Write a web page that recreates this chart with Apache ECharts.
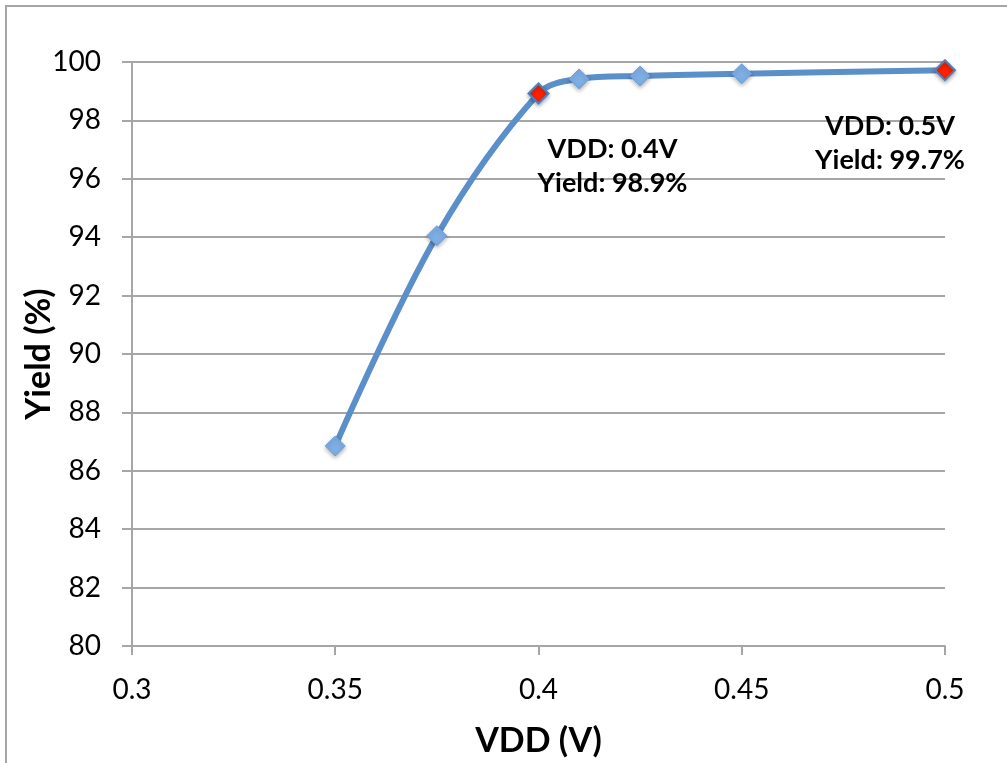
<!DOCTYPE html>
<html><head><meta charset="utf-8">
<script src="https://cdn.jsdelivr.net/npm/echarts@6/dist/echarts.min.js"></script>
<style>html,body{margin:0;padding:0;background:#fff}#c{width:1007px;height:763px}</style>
</head><body><div id="c"></div>
<script>
const vdd = [0.35, 0.375, 0.4, 0.41, 0.425, 0.45, 0.5];
const yieldPct = [86.85, 94.05, 98.92, 99.42, 99.52, 99.6, 99.72];
const highlighted = [0.4, 0.5];
const annotationX = [0.4, 0.5];
const annotationY = [98.9, 99.7];
const annotationText = ['VDD: 0.4V\nYield: 98.9%', 'VDD: 0.5V\nYield: 99.7%'];
const xTicks = [0.3, 0.35, 0.4, 0.45, 0.5];
const yTicks = [80, 82, 84, 86, 88, 90, 92, 94, 96, 98, 100];

const FONT = 'Lato, "Liberation Sans", sans-serif';
const chart = echarts.init(document.getElementById('c'), null, {renderer: 'canvas'});
const data = vdd.map((x, i) => {
  const hl = highlighted.includes(x);
  return {
    value: [x, yieldPct[i]],
    itemStyle: hl ? {color: '#ff2200', borderColor: '#4f81bd', borderWidth: 2} : undefined
  };
});
const labelOffsets = [[74, 72], [-55, 73]];
const annSeries = annotationX.map((x, i) => ({
  type: 'scatter', data: [[x, annotationY[i]]], symbolSize: 1, silent: true, z: 4,
  itemStyle: {color: 'rgba(0,0,0,0)', opacity: 1},
  label: {
    show: true, position: 'inside', offset: labelOffsets[i],
    formatter: annotationText[i],
    fontFamily: FONT, fontSize: 27, fontWeight: 'bold', color: '#000',
    textBorderWidth: 0, textBorderColor: 'transparent', textShadowBlur: 0,
    lineHeight: 34, align: 'center', verticalAlign: 'middle'
  },
  emphasis: {disabled: true}
}));
chart.setOption({
  animation: false,
  graphic: [{
    type: 'rect', shape: {x: 6, y: 6, width: 1100, height: 900},
    style: {fill: 'none', stroke: '#a6a6a6', lineWidth: 2}, silent: true, z: -1
  }],
  grid: {left: 132, right: 62, top: 62, bottom: 117, containLabel: false},
  xAxis: {
    type: 'value', min: 0.3, max: 0.5, interval: 0.05,
    name: 'VDD (V)', nameLocation: 'middle', nameGap: 78,
    nameTextStyle: {fontFamily: FONT, fontSize: 34, fontWeight: 'bold', color: '#000'},
    axisLine: {show: true, lineStyle: {color: '#a6a6a6', width: 2}},
    axisTick: {show: true, length: 9, lineStyle: {color: '#a6a6a6', width: 2}},
    axisLabel: {fontFamily: FONT, fontSize: 28, color: '#000', margin: 30,
      formatter: v => { const t = xTicks.find(t => Math.abs(t - v) < 1e-9); return t === undefined ? '' : String(t); }},
    splitLine: {show: false}
  },
  yAxis: {
    type: 'value', min: 80, max: 100, interval: 2,
    name: 'Yield (%)', nameLocation: 'middle', nameGap: 76, nameRotate: 90,
    nameMoveOverlap: false,
    nameTextStyle: {fontFamily: FONT, fontSize: 34, fontWeight: 'bold', color: '#000'},
    axisLine: {show: true, lineStyle: {color: '#a6a6a6', width: 2}},
    axisTick: {show: true, length: 10, lineStyle: {color: '#a6a6a6', width: 2}},
    axisLabel: {fontFamily: FONT, fontSize: 28, color: '#000', margin: 31,
      formatter: v => yTicks.includes(v) ? String(v) : ''},
    splitLine: {show: true, lineStyle: {color: '#a6a6a6', width: 2}}
  },
  series: [{
    type: 'line', smooth: 0.35, data: data,
    symbol: 'diamond', symbolSize: 20,
    lineStyle: {color: '#5b8fc9', width: 6},
    itemStyle: {color: '#7eaee4', borderColor: '#6a9fd8', borderWidth: 1,
      shadowColor: 'rgba(0,0,0,0.3)', shadowBlur: 4, shadowOffsetY: 2},
    z: 3
  }].concat(annSeries)
});
</script></body></html>
